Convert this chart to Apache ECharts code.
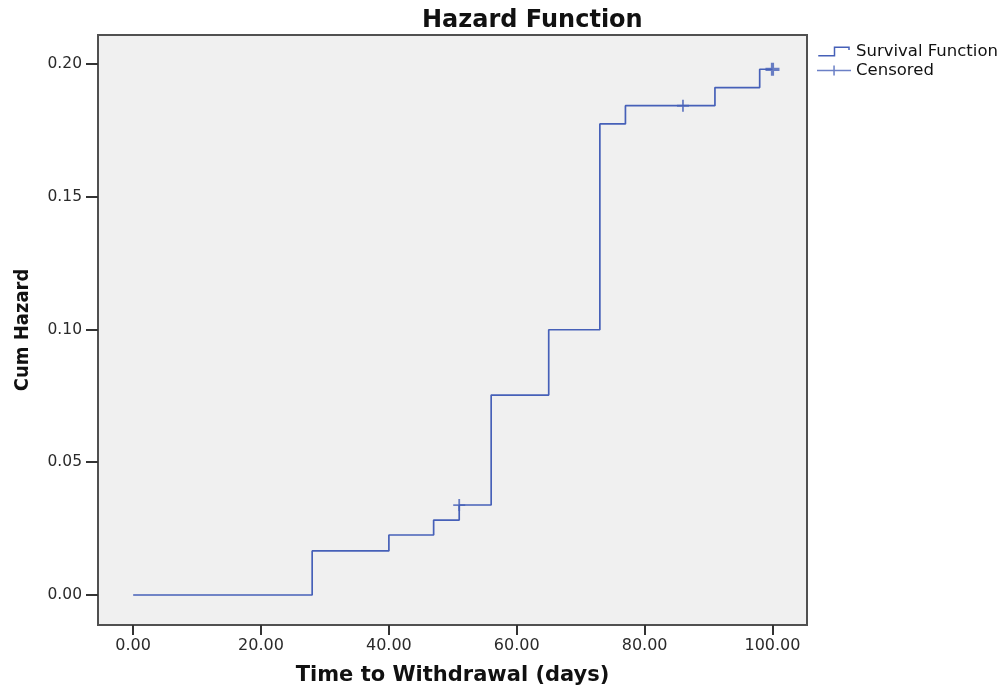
<!DOCTYPE html>
<html>
<head>
<meta charset="utf-8">
<script src="https://cdn.jsdelivr.net/npm/echarts@6/dist/echarts.min.js"></script>
<style>html,body{margin:0;padding:0;background:#fff}#c{width:1000px;height:698px}</style>
</head>
<body>
<div id="c"></div>
<script>
// Step points of cumulative hazard (time, value)
var times = [0, 28, 40, 47, 51, 56, 65, 73, 77, 91, 98, 100];
var cumHazard = [0, 0.0166, 0.0226, 0.0282, 0.0339, 0.0753, 0.0999, 0.1774, 0.1843, 0.1911, 0.1980, 0.1980];
// Censored observations
var censoredTimes = [51, 86, 100];
var censoredHazard = [0.0339, 0.1843, 0.1980];
// Tick labels
var xTicks = [0, 20, 40, 60, 80, 100];
var yTicks = [0, 0.05, 0.10, 0.15, 0.20];

var lineColor = '#4660b8';
var chart = echarts.init(document.getElementById('c'));

var stepData = times.map(function (t, i) { return [t, cumHazard[i]]; });
var censData = censoredTimes.map(function (t, i) {
  var last = i === censoredTimes.length - 1;
  return {
    value: [t, censoredHazard[i]],
    symbol: last ? 'path://M0,5h14v3.2h-14z M5.4,0h3.2v13h-3.2z' : 'path://M0,5.2h12v1.8h-12z M5.1,0h1.8v12h-1.8z',
    symbolSize: last ? [14, 13] : [12, 12]
  };
});

var stepIcon = 'path://M0,8.5h17v1.5h-17z M15.5,0h1.5v10h-1.5z M15.5,0h16v1.5h-16z M30,0h1.5v3.5h-1.5z';
var plusIcon = 'path://M0,4.3h34v1.5h-34z M16.3,0h1.5v10h-1.5z';

chart.setOption({
  animation: false,
  backgroundColor: '#ffffff',
  title: {
    text: 'Hazard Function',
    left: 417, top: 4,
    textStyle: { fontFamily: 'DejaVu Sans', fontWeight: 'bold', fontSize: 24, color: '#111' }
  },
  legend: {
    orient: 'vertical',
    left: 812, top: 38,
    itemWidth: 34, itemHeight: 10, itemGap: 2,
    textStyle: { fontFamily: 'DejaVu Sans', fontSize: 16.5, color: '#111', lineHeight: 16 },
    data: [
      { name: 'Survival Function', icon: stepIcon, itemStyle: { color: lineColor, borderWidth: 0 } },
      { name: 'Censored', icon: plusIcon, itemStyle: { color: lineColor, borderWidth: 0 } }
    ]
  },
  grid: {
    left: 98, top: 35, right: 193, bottom: 73,
    show: true, backgroundColor: '#f0f0f0', borderColor: '#505050', borderWidth: 2
  },
  xAxis: {
    type: 'value',
    min: -5.5, max: 105.4,
    name: 'Time to Withdrawal (days)',
    nameLocation: 'middle', nameGap: 40,
    nameTextStyle: { fontFamily: 'DejaVu Sans', fontWeight: 'bold', fontSize: 21, color: '#111' },
    axisLine: { show: false, onZero: false },
    axisTick: { show: true, length: 10, customValues: xTicks, lineStyle: { color: '#333', width: 2 } },
    axisLabel: {
      customValues: xTicks, margin: 13,
      fontFamily: 'DejaVu Sans', fontSize: 16, color: '#2a2a2a',
      formatter: function (v) { return v.toFixed(2); }
    },
    splitLine: { show: false }
  },
  yAxis: {
    type: 'value',
    min: -0.0113, max: 0.2109,
    name: 'Cum Hazard',
    nameLocation: 'middle', nameGap: 65, nameRotate: 90,
    nameTextStyle: { fontFamily: "'DejaVu Sans Condensed', 'Liberation Sans', sans-serif", fontWeight: 'bold', fontSize: 20, color: '#111' },
    axisLine: { show: false, onZero: false },
    axisTick: { show: true, length: 12, customValues: yTicks, lineStyle: { color: '#333', width: 2 } },
    axisLabel: {
      customValues: yTicks, margin: 16,
      fontFamily: 'DejaVu Sans', fontSize: 15.5, color: '#2a2a2a',
      formatter: function (v) { return v.toFixed(2); }
    },
    splitLine: { show: false }
  },
  series: [
    {
      name: 'Survival Function',
      type: 'line',
      step: 'end',
      data: stepData,
      showSymbol: false,
      symbol: 'none',
      lineStyle: { color: lineColor, width: 1.7 },
      itemStyle: { color: lineColor },
      z: 2
    },
    {
      name: 'Censored',
      type: 'scatter',
      data: censData,
      itemStyle: { color: lineColor },
      z: 3
    }
  ]
});
</script>
</body>
</html>
